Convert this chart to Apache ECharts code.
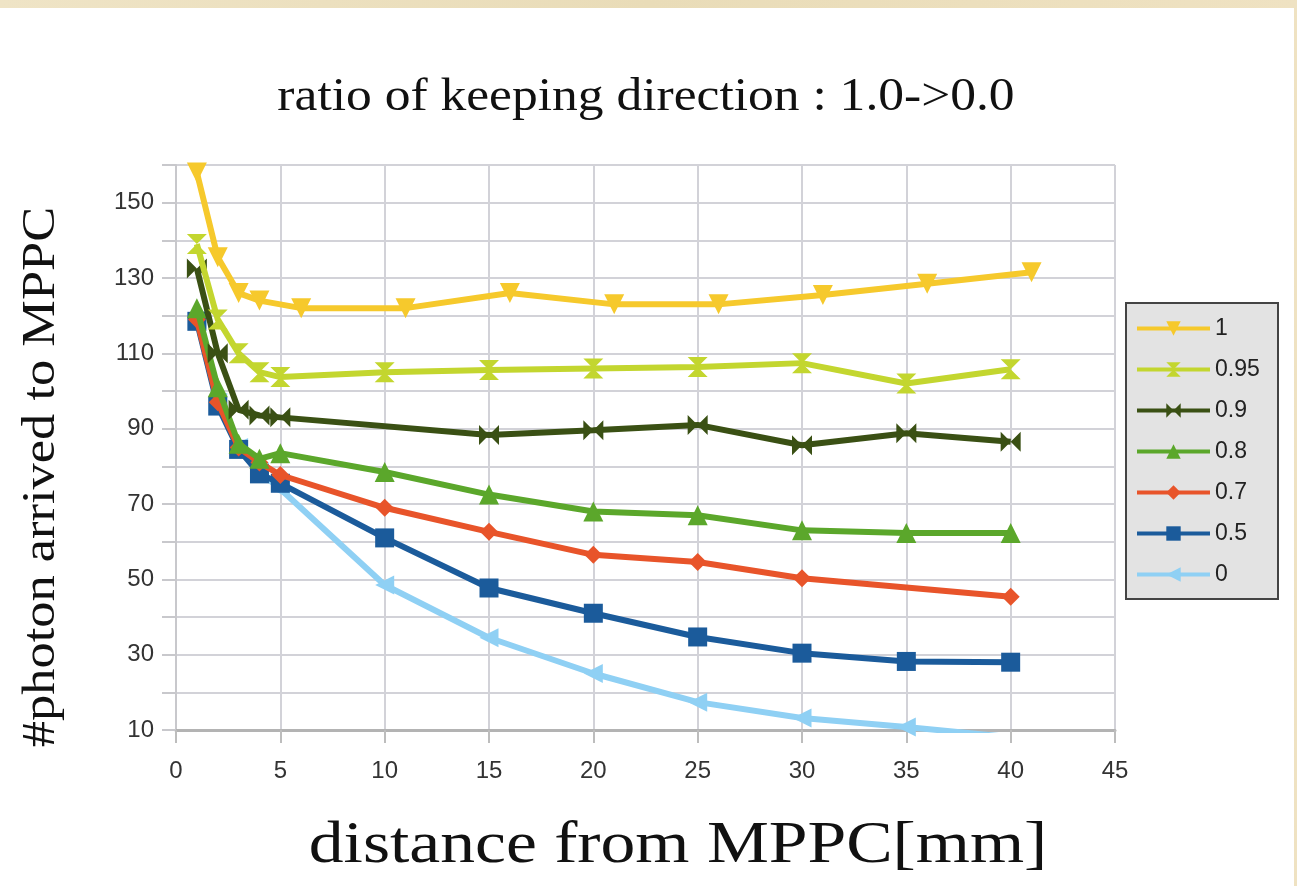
<!DOCTYPE html>
<html>
<head>
<meta charset="utf-8">
<script src="https://cdn.jsdelivr.net/npm/echarts@6/dist/echarts.min.js"></script>
<style>
html,body{margin:0;padding:0;width:1297px;height:886px;overflow:hidden;
background:linear-gradient(90deg,#efe4c6,#e9dcb8 50%,#efe2c2);}
#wrap{position:absolute;left:0;top:8px;width:1294px;height:878px;background:#fff;}
#chart{width:1294px;height:878px;}
</style>
</head>
<body>
<div id="wrap"><div id="chart"></div></div>
<script>
const titleText = 'ratio of keeping direction : 1.0->0.0';
const xName = 'distance from MPPC[mm]';
const yName = '#photon arrived to MPPC';
const seriesNames = ['1', '0.95', '0.9', '0.8', '0.7', '0.5', '0'];

const x_1    = [1, 2, 3, 4, 6, 11, 16, 21, 26, 31, 36, 41];
const y_1    = [158, 135.5, 126, 124, 122, 122, 126, 123, 123, 125.5, 128.5, 131.5];
const x_095  = [1, 2, 3, 4, 5, 10, 15, 20, 25, 30, 35, 40];
const y_095  = [139, 119, 110, 105, 103.7, 105, 105.6, 106, 106.4, 107.4, 102, 105.8];
const x_09   = [1, 2, 3, 4, 5, 15, 20, 25, 30, 35, 40];
const y_09   = [132.5, 110, 95, 93.5, 93, 88.3, 89.6, 91, 85.6, 88.8, 86.5];
const x_08   = [1, 2, 3, 4, 5, 10, 15, 20, 25, 30, 35, 40];
const y_08   = [122, 101, 86, 82, 83.5, 78.5, 72.5, 68, 67, 63, 62.3, 62.3];
const x_07   = [1, 2, 3, 4, 5, 10, 15, 20, 25, 30, 40];
const y_07   = [119, 97, 85, 81, 77.7, 69, 62.6, 56.5, 54.6, 50.3, 45.4];
const x_05   = [1, 2, 3, 4, 5, 10, 15, 20, 25, 30, 35, 40];
const y_05   = [118.5, 96, 84.5, 78, 75.5, 61, 47.7, 41, 34.7, 30.4, 28.2, 28];
const x_0    = [1, 2, 3, 4, 5, 10, 15, 20, 25, 30, 35, 40];
const y_0    = [119, 97, 85, 78.5, 74, 48.5, 34.5, 25, 17.4, 13.2, 10.8, 8.1];

const yTickLabels = [10, 30, 50, 70, 90, 110, 130, 150];
const xTickLabels = [0, 5, 10, 15, 20, 25, 30, 35, 40, 45];

const zip = (xs, ys) => xs.map((x, i) => [x, ys[i]]);
const xsAll = [x_1, x_095, x_09, x_08, x_07, x_05, x_0];
const ysAll = [y_1, y_095, y_09, y_08, y_07, y_05, y_0];
const colors = ['#f6c92c', '#c3d62f', '#3a5014', '#5ba72b', '#e8542a', '#1b5b9b', '#8fd0f4'];
const symbols = [
  'triangle',
  'path://M0,0 L10,0 L5,5 L10,10 L0,10 L5,5 Z',
  'path://M0,0 L5,5 L0,10 Z M10,0 L5,5 L10,10 Z',
  'triangle',
  'diamond',
  'rect',
  'triangle'
];
const rotates = [180, 0, 0, 0, 0, 0, 90];
const sizes = [20, 20, 20, 20, 18, 19, 19];

const series = seriesNames.map((n, i) => ({
  name: n,
  type: 'line',
  data: zip(xsAll[i], ysAll[i]),
  symbol: symbols[i],
  symbolRotate: rotates[i],
  symbolSize: sizes[i],
  showAllSymbol: true,
  clip: true,
  z: 10 - i,
  lineStyle: {color: colors[i], width: 6},
  itemStyle: {color: colors[i]},
  emphasis: {disabled: true},
  animation: false
}));

const serif = 'Liberation Serif';
const chart = echarts.init(document.getElementById('chart'));
chart.setOption({
  animation: false,
  backgroundColor: '#fff',
  grid: {left: 176, right: 179, top: 157, bottom: 156, containLabel: false},
  xAxis: {
    type: 'value', min: 0, max: 45, interval: 5,
    axisLine: {show: true, lineStyle: {color: '#b3b3b3', width: 3}},
    axisTick: {show: true, length: 13, lineStyle: {color: '#bdbdbd', width: 2}},
    axisLabel: {fontFamily: 'Liberation Sans', fontSize: 24, color: '#333', margin: 29,
      formatter: v => xTickLabels.includes(v) ? String(v) : ''},
    splitLine: {show: true, lineStyle: {color: '#d2d2d8', width: 2}}
  },
  yAxis: {
    type: 'value', min: 10, max: 160, interval: 10,
    axisLine: {show: true, lineStyle: {color: '#c8c8cc', width: 2}},
    axisTick: {show: true, length: 14, lineStyle: {color: '#c8c8cc', width: 2}},
    axisLabel: {fontFamily: 'Liberation Sans', fontSize: 24, color: '#333', margin: 22,
      formatter: v => yTickLabels.includes(v) ? String(v) : ''},
    splitLine: {show: true, lineStyle: {color: '#d2d2d8', width: 2}}
  },
  graphic: [
    {
      type: 'rect', left: 1125, top: 294, z: 0,
      shape: {width: 152, height: 296},
      style: {fill: '#e3e3e3', stroke: '#444', lineWidth: 2}
    },
    {
      type: 'text', x: 646, y: 90, scaleX: 1.12, z: 5,
      style: {text: titleText, font: '46px "' + serif + '"', fill: '#111',
        align: 'center', verticalAlign: 'middle'}
    },
    {
      type: 'text', x: 678, y: 838, scaleX: 1.16, z: 5,
      style: {text: xName, font: '60px "' + serif + '"', fill: '#111',
        align: 'center', verticalAlign: 'middle'}
    },
    {
      type: 'text', x: 42, y: 469, rotation: Math.PI / 2, scaleX: 1.14, z: 5,
      style: {text: yName, font: '46px "' + serif + '"', fill: '#111',
        align: 'center', verticalAlign: 'middle'}
    }
  ],
  legend: {
    orient: 'vertical', left: 1125, top: 294, z: 20,
    padding: [15, 10, 15, 10],
    itemWidth: 73, itemHeight: 18, itemGap: 18,
    lineStyle: {width: 4},
    textStyle: {fontFamily: 'Liberation Sans', fontSize: 23, color: '#222'},
    data: seriesNames
  },
  series: series
});
</script>
</body>
</html>
